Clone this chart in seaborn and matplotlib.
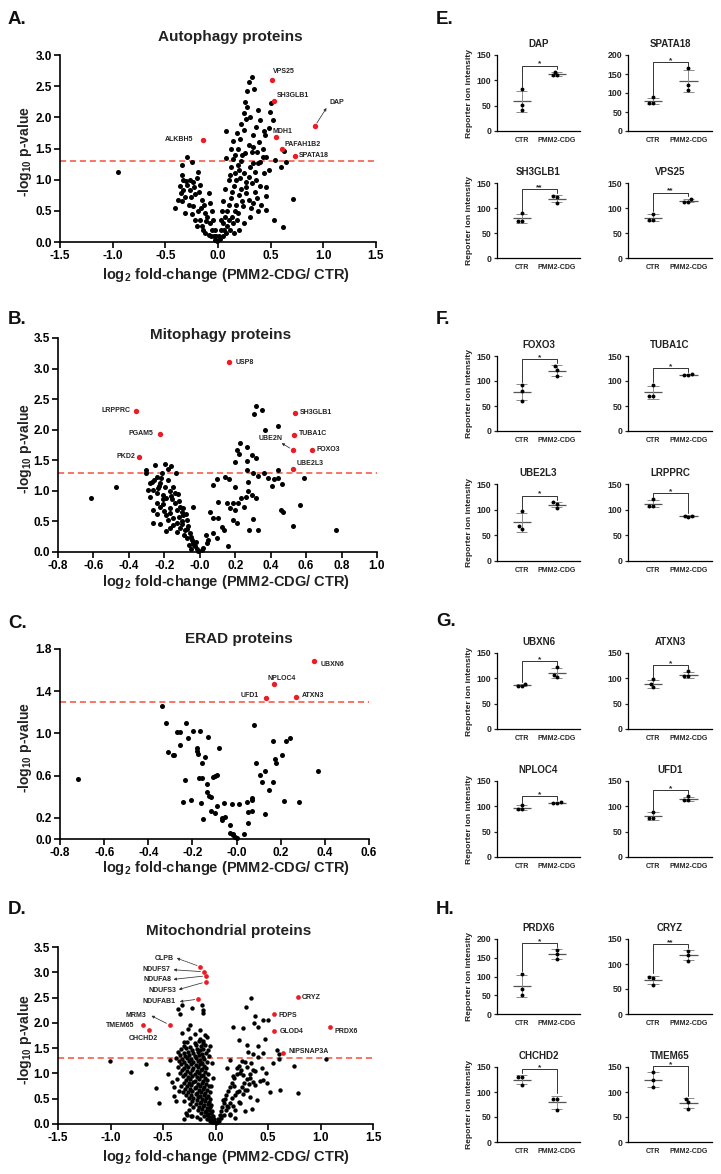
import numpy as np
import pandas as pd
import matplotlib
matplotlib.use('Agg')
import matplotlib.pyplot as plt
from matplotlib.ticker import FormatStrFormatter
import seaborn as sns

sns.set_theme(style='ticks')
plt.rcParams['font.family'] = ['Liberation Sans', 'DejaVu Sans']
plt.rcParams['mathtext.fontset'] = 'custom'
plt.rcParams['mathtext.rm'] = 'Liberation Sans'
plt.rcParams['mathtext.bf'] = 'Liberation Sans:bold'
plt.rcParams['mathtext.it'] = 'Liberation Sans:italic'
plt.rcParams['axes.unicode_minus'] = False

# ------------------------------------------------------------------ data
SIG_THRESHOLD = 1.3  # -log10(0.05)

# A. Autophagy proteins
A_black = [
    (-0.95, 1.12),
    (0.32, 2.64), (0.29, 2.57), (0.345, 2.45), (0.275, 2.43), (0.26, 2.24), (0.275, 2.16), (0.375, 2.12),
    (0.50, 2.23), (0.49, 2.08), (0.25, 2.07), (0.27, 1.98), (0.40, 1.96), (0.52, 1.95), (0.48, 1.83),
    (0.44, 1.78), (0.08, 1.78), (0.25, 1.80), (0.335, 1.72), (0.45, 1.72), (0.21, 1.65), (0.145, 1.62),
    (0.29, 1.56), (0.335, 1.53), (0.12, 1.49), (0.19, 1.50), (0.26, 1.43), (0.32, 1.44), (0.37, 1.44),
    (0.63, 1.46), (0.43, 1.37), (0.46, 1.36), (0.08, 1.35), (0.14, 1.33), (0.19, 1.24), (0.54, 1.32),
    (0.645, 1.28), (0.60, 1.20), (0.335, 1.27), (0.38, 1.27), (0.48, 1.16), (0.44, 1.10), (0.16, 1.10),
    (0.11, 1.08), (0.21, 1.02), (0.27, 0.97), (0.29, 1.05), (0.265, 0.89), (0.35, 0.81), (0.37, 0.70),
    (0.29, 0.67), (0.46, 0.88), (0.46, 0.73), (0.335, 0.63), (0.455, 0.52), (0.715, 0.69), (0.535, 0.36),
    (0.615, 0.24), (0.24, 0.57), (0.19, 0.46), (0.145, 0.30), (0.11, 0.20), (0.08, 0.14), (0.045, 0.09),
    (0.02, 0.05), (0.05, 0.30), (0.07, 0.40), (0.09, 0.50), (0.10, 0.60), (0.12, 0.70), (0.13, 0.80),
    (0.15, 0.90), (0.17, 1.00), (0.20, 1.15), (0.22, 1.30), (0.23, 1.40), (0.17, 0.60), (0.20, 0.75),
    (0.22, 0.85), (0.25, 1.10), (0.30, 1.20), (0.32, 0.95), (0.36, 1.00), (0.40, 0.90), (0.41, 0.60),
    (0.38, 0.50), (0.30, 0.40), (0.25, 0.30), (0.20, 0.20), (0.15, 0.15), (0.13, 0.40), (0.06, 0.20),
    (0.09, 0.25), (0.10, 0.35), (0.16, 0.50), (0.18, 0.35), (0.27, 0.78), (0.23, 0.66), (0.31, 0.55),
    (0.35, 1.13), (0.40, 1.28), (0.43, 1.50), (0.39, 1.60), (0.36, 1.85), (0.30, 2.00), (0.22, 1.90),
    (0.18, 1.75), (0.16, 1.40), (0.12, 1.20), (0.10, 1.00), (0.07, 0.85), (0.05, 0.65), (0.04, 0.50),
    (0.03, 0.35), (0.03, 0.20), (0.01, 0.10),
    (-0.29, 1.37), (-0.345, 1.24), (-0.245, 1.28), (-0.34, 1.07), (-0.33, 1.00), (-0.30, 0.98),
    (-0.27, 0.99), (-0.24, 0.97), (-0.19, 1.13), (-0.20, 1.02), (-0.17, 0.92), (-0.33, 0.84),
    (-0.27, 0.84), (-0.22, 0.77), (-0.345, 0.65), (-0.41, 0.54), (-0.31, 0.46), (-0.24, 0.57),
    (-0.19, 0.49), (-0.12, 0.46), (-0.17, 0.36), (-0.11, 0.33), (-0.09, 0.78), (-0.075, 0.62),
    (-0.155, 0.68), (-0.14, 0.20), (-0.06, 0.20), (-0.04, 0.09), (-0.03, 0.04), (-0.36, 0.90),
    (-0.31, 0.72), (-0.28, 0.60), (-0.25, 0.45), (-0.22, 0.35), (-0.20, 0.25), (-0.16, 0.55),
    (-0.13, 0.60), (-0.10, 0.40), (-0.08, 0.30), (-0.06, 0.50), (-0.05, 0.35), (-0.03, 0.20),
    (-0.02, 0.10), (-0.01, 0.02), (-0.26, 0.72), (-0.23, 0.88), (-0.29, 0.92), (-0.35, 0.78),
    (-0.38, 0.68), (-0.18, 0.80), (-0.15, 0.25), (-0.12, 0.15), (-0.09, 0.12), (-0.07, 0.10),
]
A_red_names = ['VPS25', 'SH3GLB1', 'DAP', 'MDH1', 'ALKBH5', 'PAFAH1B2', 'SPATA18']
A_red_x = [0.51, 0.535, 0.92, 0.55, -0.146, 0.61, 0.73]
A_red_y = [2.60, 2.27, 1.86, 1.68, 1.63, 1.49, 1.38]

# B. Mitophagy proteins
B_black = [
    (-0.615, 0.89), (-0.474, 1.07), (0.318, 2.39), (0.308, 2.25), (0.353, 2.33), (0.368, 2.00),
    (0.44, 2.06), (0.227, 1.79), (0.208, 1.67), (0.22, 1.61), (0.268, 1.72), (0.293, 1.59),
    (0.199, 1.48), (0.265, 1.49), (0.315, 1.53), (0.36, 1.30), (0.44, 1.34), (0.265, 1.34),
    (0.303, 1.29), (0.329, 1.25), (0.384, 1.21), (0.416, 1.20), (0.444, 1.21), (0.41, 1.08),
    (0.465, 1.12), (0.589, 1.21), (0.274, 1.14), (0.199, 1.07), (0.142, 1.22), (0.167, 1.19),
    (0.099, 1.20), (0.076, 1.09), (0.46, 0.68), (0.47, 0.65), (0.566, 0.77), (0.525, 0.43),
    (0.77, 0.36), (0.28, 0.36), (0.327, 0.36), (0.30, 0.54), (0.32, 0.88), (0.274, 0.99),
    (0.057, 0.66), (0.076, 0.55), (0.105, 0.55), (0.123, 0.41), (0.137, 0.36), (0.161, 0.09),
    (0.076, 0.31), (0.095, 0.23), (0.039, 0.15), (0.048, 0.20), (0.035, 0.28), (0.02, 0.07),
    (0.01, 0.04), (0.189, 0.80), (0.216, 0.80), (0.233, 0.89), (0.252, 0.74), (0.199, 0.69),
    (0.152, 0.80), (0.171, 0.72), (0.105, 0.82), (0.261, 0.90), (0.297, 0.93), (0.19, 0.53),
    (0.208, 0.47),
    (-0.306, 1.34), (-0.25, 1.43), (-0.197, 1.44), (-0.165, 1.41), (-0.178, 1.35), (-0.135, 1.30),
    (-0.212, 1.30), (-0.219, 1.21), (-0.244, 1.23), (-0.272, 1.15), (-0.282, 1.13), (-0.225, 1.13),
    (-0.197, 1.07), (-0.15, 1.07), (-0.169, 0.99), (-0.14, 0.96), (-0.122, 0.95), (-0.263, 1.02),
    (-0.291, 1.02), (-0.244, 0.96), (-0.206, 0.93), (-0.188, 0.88), (-0.155, 0.86), (-0.14, 0.80),
    (-0.112, 0.74), (-0.244, 0.80), (-0.225, 0.74), (-0.263, 0.69), (-0.20, 0.67), (-0.169, 0.64),
    (-0.131, 0.69), (-0.103, 0.66), (-0.093, 0.61), (-0.15, 0.55), (-0.178, 0.53), (-0.263, 0.47),
    (-0.225, 0.45), (-0.169, 0.39), (-0.131, 0.47), (-0.112, 0.39), (-0.074, 0.53), (-0.065, 0.42),
    (-0.084, 0.36), (-0.056, 0.31), (-0.074, 0.23), (-0.046, 0.20), (-0.037, 0.15), (-0.027, 0.09),
    (-0.018, 0.05), (-0.008, 0.02), (-0.093, 0.72), (-0.04, 0.73), (-0.305, 1.30), (-0.235, 1.05),
    (-0.21, 0.86), (-0.19, 0.60), (-0.12, 0.58), (-0.10, 0.50), (-0.06, 0.12), (-0.05, 0.05),
    (-0.09, 0.28), (-0.13, 0.32), (-0.24, 0.62), (-0.28, 0.90), (-0.26, 1.18), (-0.23, 1.08),
    (-0.18, 1.17), (-0.16, 0.92), (-0.21, 0.78), (-0.17, 0.72), (-0.12, 0.84), (-0.08, 0.62),
    (-0.10, 0.45), (-0.07, 0.38), (-0.15, 0.44), (-0.19, 0.35), (-0.05, 0.25), (-0.03, 0.12),
    (-0.02, 0.17),
]
B_red_names = ['USP8', 'LRPPRC', 'SH3GLB1', 'PGAM5', 'TUBA1C', 'UBE2N', 'FOXO3', 'PKD2', 'UBE2L3']
B_red_x = [0.167, -0.36, 0.538, -0.225, 0.534, 0.525, 0.634, -0.342, 0.528]
B_red_y = [3.11, 2.30, 2.28, 1.93, 1.92, 1.67, 1.67, 1.55, 1.35]

# C. ERAD proteins
C_black = [
    (-0.72, 0.57), (-0.337, 1.26), (-0.32, 1.10), (-0.31, 0.82), (-0.29, 0.80), (-0.285, 0.80),
    (-0.272, 1.01), (-0.257, 1.01), (-0.257, 0.89), (-0.23, 1.10), (-0.22, 0.96), (-0.197, 1.02),
    (-0.166, 1.02), (-0.18, 0.86), (-0.178, 0.83), (-0.174, 0.81), (-0.144, 0.78), (-0.156, 0.72),
    (-0.129, 0.97), (-0.079, 0.86), (-0.233, 0.56), (-0.17, 0.58), (-0.155, 0.58), (-0.106, 0.59),
    (-0.098, 0.60), (-0.088, 0.61), (-0.135, 0.52), (-0.133, 0.45), (-0.124, 0.41), (-0.118, 0.40),
    (-0.207, 0.37), (-0.241, 0.35), (-0.162, 0.34), (-0.115, 0.27), (-0.099, 0.25), (-0.088, 0.31),
    (-0.151, 0.19), (-0.068, 0.20), (-0.064, 0.18), (-0.053, 0.21), (-0.058, 0.34), (-0.02, 0.33),
    (-0.031, 0.13), (-0.028, 0.06), (-0.016, 0.05), (-0.008, 0.02), (0.0, 0.01), (-0.016, 0.04),
    (0.012, 0.33), (0.034, 0.05), (0.045, 0.35), (0.052, 0.26), (0.052, 0.15), (0.07, 0.37),
    (0.07, 0.39), (0.07, 0.27), (0.079, 1.08), (0.087, 0.72), (0.108, 0.61), (0.113, 0.54),
    (0.128, 0.64), (0.128, 0.24), (0.147, 0.46), (0.163, 0.54), (0.165, 0.93), (0.175, 0.76),
    (0.18, 0.72), (0.206, 0.80), (0.215, 0.36), (0.226, 0.93), (0.244, 0.96), (0.283, 0.35),
    (0.369, 0.64),
]
C_red_names = ['UBXN6', 'NPLOC4', 'UFD1', 'ATXN3']
C_red_x = [0.35, 0.17, 0.132, 0.268]
C_red_y = [1.69, 1.465, 1.34, 1.35]

# D. Mitochondrial proteins
D_black = [
    (-1.007, 1.25), (-0.806, 1.02), (-0.666, 1.18), (-0.568, 0.71), (-0.536, 0.41), (-0.45, 0.99),
    (-0.435, 1.27), (-0.418, 0.84), (-0.40, 0.74), (-0.358, 2.27), (-0.339, 2.17), (-0.317, 2.35),
    (-0.243, 1.96), (-0.22, 2.30), (-0.126, 2.35), (-0.122, 2.26), (-0.116, 2.19), (-0.40, 0.55),
    (-0.38, 0.45), (-0.35, 0.65), (-0.27, 0.18), (-0.23, 0.15), (-0.18, 0.14), (-0.15, 0.10),
    (-0.30, 1.62), (-0.32, 1.80), (-0.26, 1.88), (-0.15, 1.85), (-0.12, 1.65), (-0.05, 1.55),
    (-0.03, 1.20), (-0.02, 0.90), (-0.04, 0.75),
    (0.339, 2.49), (0.29, 2.32), (0.38, 2.14), (0.456, 2.06), (0.504, 2.06), (0.37, 1.99), (0.17, 1.92),
    (0.265, 1.89), (0.40, 1.92), (0.227, 1.66), (0.472, 1.68), (0.408, 1.54), (0.30, 1.56), (0.313, 1.43),
    (0.36, 1.38), (0.456, 1.40), (0.584, 1.46), (0.60, 1.38), (1.055, 1.29), (0.752, 1.14), (0.785, 0.62),
    (0.61, 0.68), (0.52, 0.64), (0.488, 0.81), (0.377, 0.77), (0.33, 0.91), (0.28, 0.68), (0.20, 0.64),
    (0.17, 0.94), (0.138, 1.27), (0.107, 1.10), (0.234, 1.00), (0.36, 1.07), (0.40, 1.33), (0.44, 1.10),
    (0.55, 1.20), (0.456, 0.87), (0.393, 0.48), (0.33, 0.54), (0.234, 0.41), (0.186, 0.28), (0.186, 0.12),
    (0.138, 0.18), (0.107, 0.35), (0.07, 0.48), (0.05, 0.15), (0.60, 1.29), (0.48, 1.00), (0.42, 0.85),
    (0.25, 1.25), (0.20, 1.10), (0.18, 0.75), (0.32, 0.80), (0.35, 0.30), (0.28, 0.25),
    (-0.20, 1.78), (-0.10, 1.76), (-0.24, 1.71), (-0.15, 1.69), (-0.08, 1.72), (-0.27, 1.63), (-0.20, 1.61),
    (-0.16, 1.64), (-0.12, 1.60), (-0.30, 1.55), (-0.24, 1.53), (-0.19, 1.56), (-0.14, 1.54), (-0.10, 1.57),
    (-0.33, 1.48), (-0.28, 1.50), (-0.22, 1.47), (-0.18, 1.49), (-0.15, 1.46), (-0.12, 1.49), (-0.07, 1.47),
    (-0.36, 1.42), (-0.30, 1.41), (-0.26, 1.43), (-0.21, 1.40), (-0.17, 1.42), (-0.13, 1.39), (-0.09, 1.41),
    (-0.34, 1.36), (-0.29, 1.35), (-0.25, 1.37), (-0.20, 1.34), (-0.16, 1.36), (-0.12, 1.33), (-0.06, 1.35),
    (-0.38, 1.30), (-0.32, 1.29), (-0.27, 1.31), (-0.23, 1.28), (-0.19, 1.30), (-0.15, 1.27), (-0.11, 1.29),
    (-0.35, 1.24), (-0.30, 1.23), (-0.25, 1.25), (-0.21, 1.22), (-0.17, 1.24), (-0.13, 1.21), (-0.08, 1.23),
    (-0.33, 1.18), (-0.28, 1.17), (-0.23, 1.19), (-0.19, 1.16), (-0.15, 1.18), (-0.11, 1.15), (-0.36, 1.12),
    (-0.30, 1.11), (-0.26, 1.13), (-0.21, 1.10), (-0.17, 1.12), (-0.13, 1.09), (-0.09, 1.11), (-0.32, 1.06),
    (-0.27, 1.05), (-0.22, 1.07), (-0.18, 1.04), (-0.14, 1.06), (-0.10, 1.03), (-0.34, 1.00), (-0.29, 0.99),
    (-0.24, 1.01), (-0.20, 0.98), (-0.16, 1.00), (-0.12, 0.97), (-0.07, 0.99), (-0.31, 0.94), (-0.26, 0.93),
    (-0.22, 0.95), (-0.18, 0.92), (-0.14, 0.94), (-0.10, 0.91), (-0.37, 0.88), (-0.28, 0.87), (-0.24, 0.89),
    (-0.20, 0.86), (-0.16, 0.88), (-0.12, 0.85), (-0.08, 0.87), (-0.30, 0.82), (-0.25, 0.81), (-0.21, 0.83),
    (-0.17, 0.80), (-0.13, 0.82), (-0.09, 0.79), (-0.33, 0.76), (-0.27, 0.75), (-0.23, 0.77), (-0.19, 0.74),
    (-0.15, 0.76), (-0.11, 0.73), (-0.06, 0.75), (-0.29, 0.70), (-0.24, 0.69), (-0.20, 0.71), (-0.16, 0.68),
    (-0.12, 0.70), (-0.08, 0.67), (-0.31, 0.64), (-0.26, 0.63), (-0.22, 0.65), (-0.18, 0.62), (-0.14, 0.64),
    (-0.10, 0.61), (-0.05, 0.63), (-0.28, 0.58), (-0.23, 0.57), (-0.19, 0.59), (-0.15, 0.56), (-0.11, 0.58),
    (-0.07, 0.55), (-0.25, 0.52), (-0.21, 0.51), (-0.17, 0.53), (-0.13, 0.50), (-0.09, 0.52), (-0.05, 0.49),
    (-0.30, 0.46), (-0.22, 0.45), (-0.18, 0.47), (-0.14, 0.44), (-0.10, 0.46), (-0.06, 0.43), (-0.24, 0.40),
    (-0.19, 0.39), (-0.15, 0.41), (-0.11, 0.38), (-0.07, 0.40), (-0.04, 0.37), (-0.21, 0.34), (-0.16, 0.33),
    (-0.12, 0.35), (-0.08, 0.32), (-0.05, 0.34), (-0.25, 0.28), (-0.17, 0.27), (-0.13, 0.29), (-0.09, 0.26),
    (-0.06, 0.28), (-0.03, 0.25), (-0.28, 0.22), (-0.14, 0.21), (-0.10, 0.23), (-0.07, 0.20), (-0.04, 0.22),
    (-0.22, 0.16), (-0.11, 0.15), (-0.08, 0.17), (-0.05, 0.14), (-0.02, 0.16), (-0.30, 0.10), (-0.08, 0.09),
    (-0.06, 0.11), (-0.03, 0.08), (-0.01, 0.10), (-0.05, 0.05), (-0.03, 0.03), (-0.01, 0.04), (0.00, 0.02),
    (0.01, 0.04), (0.03, 0.06), (0.02, 0.10), (0.05, 0.11), (0.04, 0.18), (0.08, 0.17), (0.14, 0.19),
    (0.05, 0.26), (0.10, 0.27), (0.06, 0.34), (0.12, 0.33), (0.17, 0.35), (0.08, 0.42), (0.14, 0.41),
    (0.22, 0.43), (0.09, 0.50), (0.16, 0.51), (0.10, 0.58), (0.19, 0.57), (0.26, 0.59), (0.12, 0.66),
    (0.22, 0.65), (0.30, 0.67), (0.14, 0.74), (0.25, 0.73), (0.16, 0.82), (0.27, 0.81), (0.36, 0.83),
    (0.18, 0.90), (0.30, 0.89), (0.20, 0.98), (0.26, 0.97), (0.33, 0.99), (0.24, 1.06), (0.38, 1.05),
    (0.22, 1.14), (0.30, 1.13), (0.28, 1.22), (0.34, 1.21),
]
D_red_names = ['CLPB', 'NDUFS7', 'NDUFA8', 'NDUFS3', 'NDUFAB1', 'MRM3', 'TMEM65', 'CHCHD2',
               'CRYZ', 'FDPS', 'GLOD4', 'PRDX6', 'NIPSNAP3A']
D_red_x = [-0.145, -0.11, -0.09, -0.094, -0.164, -0.438, -0.695, -0.632, 0.79, 0.558, 0.558, 1.086, 0.641]
D_red_y = [3.11, 3.01, 2.93, 2.81, 2.47, 1.96, 1.96, 1.86, 2.51, 2.17, 1.83, 1.91, 1.41]

# E-H. Reporter ion intensity, 3 replicates per group
GROUPS = ['CTR', 'PMM2-CDG']
E_names = ['DAP', 'SPATA18', 'SH3GLB1', 'VPS25']
E_ctr = [[82, 52, 42], [89, 75, 75], [90, 74, 74], [89, 77, 77]]
E_pmm = [[117, 110, 110], [165, 122, 108], [124, 122, 110], [119, 113, 113]]
E_sig = ['*', '*', '**', '**']
E_ymax = [150, 200, 150, 150]

F_names = ['FOXO3', 'TUBA1C', 'UBE2L3', 'LRPPRC']
F_ctr = [[93, 80, 60], [93, 70, 70], [97, 68, 62], [120, 108, 108]]
F_pmm = [[130, 123, 110], [113, 112, 114], [114, 112, 104], [88, 85, 88]]
F_sig = ['*', '*', '*', '*']
F_ymax = [150, 150, 150, 150]

G_names = ['UBXN6', 'ATXN3', 'NPLOC4', 'UFD1']
G_ctr = [[85, 89, 85], [98, 88, 82], [103, 94, 94], [89, 76, 76]]
G_pmm = [[122, 107, 102], [114, 104, 104], [106, 107, 108], [120, 112, 112]]
G_sig = ['*', '*', '*', '*']
G_ymax = [150, 150, 150, 150]

H_names = ['PRDX6', 'CRYZ', 'CHCHD2', 'TMEM65']
H_ctr = [[108, 66, 50], [74, 72, 58], [130, 130, 114], [140, 125, 110]]
H_pmm = [[172, 160, 147], [127, 118, 107], [87, 87, 64], [86, 80, 66]]
H_sig = ['*', '**', '*', '*']
H_ymax = [200, 150, 150, 150]

# ------------------------------------------------------------------ style / layout
W, H = 721, 1174
RED = '#ec1c24'
DASH = '#f4503a'
LAB_FS = 5.0

fig = plt.figure(figsize=(W / 100, H / 100), dpi=100)


def px_axes(l, t, r, b):
    return fig.add_axes([l / W, 1 - b / H, (r - l) / W, (b - t) / H])


def ftext(x, y, s, **kw):
    fig.text(x / W, 1 - y / H, s, **kw)


# label layout: name -> (text x, text y, ha, arrow end or None)
LAY_A = {'VPS25': (0.52, 2.73, 'left', None), 'SH3GLB1': (0.557, 2.35, 'left', None),
         'DAP': (1.06, 2.23, 'left', (1.03, 2.15)), 'MDH1': (0.52, 1.77, 'left', None),
         'ALKBH5': (-0.23, 1.64, 'right', None), 'PAFAH1B2': (0.636, 1.57, 'left', None),
         'SPATA18': (0.77, 1.38, 'left', None)}
LAY_B = {'USP8': (0.204, 3.10, 'left', None), 'LRPPRC': (-0.389, 2.32, 'right', None),
         'SH3GLB1': (0.566, 2.28, 'left', None), 'PGAM5': (-0.26, 1.93, 'right', None),
         'TUBA1C': (0.557, 1.93, 'left', None), 'UBE2N': (0.40, 1.86, 'center', (0.462, 1.78)),
         'FOXO3': (0.661, 1.67, 'left', None), 'PKD2': (-0.362, 1.56, 'right', None),
         'UBE2L3': (0.547, 1.45, 'left', None)}
LAY_C = {'UBXN6': (0.38, 1.65, 'left', None), 'NPLOC4': (0.203, 1.516, 'center', None),
         'UFD1': (0.102, 1.355, 'right', None), 'ATXN3': (0.294, 1.355, 'left', None)}
LAY_D = {'CLPB': (-0.40, 3.28, 'right', (-0.37, 3.28)), 'NDUFS7': (-0.43, 3.05, 'right', (-0.40, 3.05)),
         'NDUFA8': (-0.42, 2.86, 'right', (-0.40, 2.86)), 'NDUFS3': (-0.37, 2.63, 'right', (-0.35, 2.66)),
         'NDUFAB1': (-0.38, 2.42, 'right', (-0.34, 2.42)), 'MRM3': (-0.657, 2.15, 'right', (-0.61, 2.14)),
         'TMEM65': (-0.77, 1.94, 'right', None), 'CHCHD2': (-0.69, 1.69, 'center', None),
         'CRYZ': (0.822, 2.51, 'left', None), 'FDPS': (0.60, 2.15, 'left', None),
         'GLOD4': (0.61, 1.83, 'left', None), 'PRDX6': (1.134, 1.83, 'left', None),
         'NIPSNAP3A': (0.695, 1.43, 'left', None)}
DASHED_ARROWS = {'CLPB'}


def volcano(rect, black, rx, ry, rnames, lay, xlim, xticks, ylim, yticks, ms):
    ax = px_axes(*rect)
    ax.axhline(SIG_THRESHOLD, color=DASH, lw=1.1, ls=(0, (4, 2.5)), zorder=1)
    sns.scatterplot(x=[p[0] for p in black], y=[p[1] for p in black], ax=ax, color='black',
                    s=ms, linewidth=0, zorder=3, clip_on=False, legend=False)
    sns.scatterplot(x=rx, y=ry, ax=ax, color=RED, s=ms * 1.15, linewidth=0, zorder=4,
                    clip_on=False, legend=False)
    for n, x, y in zip(rnames, rx, ry):
        tx, ty, ha, arr = lay[n]
        ax.text(tx, ty, n, ha=ha, va='center', fontsize=LAB_FS, fontweight='bold', color='#222', zorder=5)
        if arr is not None:
            ax.annotate('', xy=arr, xytext=(x, y),
                        arrowprops=dict(arrowstyle='-|>', lw=0.55, color='#333', shrinkA=2.5, shrinkB=0,
                                        mutation_scale=4,
                                        linestyle=(0, (2, 1)) if n in DASHED_ARROWS else '-'))
    ax.set_xlim(xlim)
    ax.set_ylim(ylim)
    ax.set_xticks(xticks)
    ax.set_yticks(yticks)
    ax.xaxis.set_major_formatter(FormatStrFormatter('%.1f'))
    ax.yaxis.set_major_formatter(FormatStrFormatter('%.1f'))
    for s in ['top', 'right']:
        ax.spines[s].set_visible(False)
    for s in ['left', 'bottom']:
        ax.spines[s].set_linewidth(1.2)
        ax.spines[s].set_color('black')
    ax.tick_params(direction='out', length=4, width=1.2, labelsize=8.5, pad=2, colors='black')
    for lab in ax.get_xticklabels() + ax.get_yticklabels():
        lab.set_fontweight('bold')
    ax.set_xlabel('')
    ax.set_ylabel('')
    return ax


XLAB = r'log$_\mathbf{2}$ fold-change (PMM2-CDG/ CTR)'
YLAB = r'-log$_\mathbf{10}$ p-value'

volcano((60, 55, 376, 242), A_black, A_red_x, A_red_y, A_red_names, LAY_A,
        (-1.5, 1.5), np.arange(-1.5, 1.51, 0.5), (0, 3.0), np.arange(0, 3.01, 0.5), 13)
volcano((58, 338, 377, 552), B_black, B_red_x, B_red_y, B_red_names, LAY_B,
        (-0.8, 1.0), np.arange(-0.8, 1.01, 0.2), (0, 3.5), np.arange(0, 3.51, 0.5), 13)
volcano((60, 649, 369, 839), C_black, C_red_x, C_red_y, C_red_names, LAY_C,
        (-0.8, 0.6), np.arange(-0.8, 0.61, 0.2), (0, 1.8), [0, 0.2, 0.6, 1.0, 1.4, 1.8], 13)
volcano((58, 947, 373, 1124), D_black, D_red_x, D_red_y, D_red_names, LAY_D,
        (-1.5, 1.5), np.arange(-1.5, 1.51, 0.5), (0, 3.5), np.arange(0, 3.51, 0.5), 10)

TFS = 11
for (tx, ty, title) in [(230, 37, 'Autophagy proteins'), (221, 335, 'Mitophagy proteins'),
                        (239, 639, 'ERAD proteins'), (229, 931, 'Mitochondrial proteins')]:
    ftext(tx, ty, title, ha='center', va='center', fontsize=TFS, fontweight='bold', color='#222')
for y in [275, 582, 868, 1157]:
    ftext(226, y, XLAB, ha='center', va='center', fontsize=10.5, fontweight='bold', color='#222')
for (x, y) in [(25, 152), (25, 449), (25, 748), (25, 1040)]:
    ftext(x, y, YLAB, ha='center', va='center', rotation=90, fontsize=10, fontweight='bold', color='#222')
for (x, y, s) in [(8, 20, 'A.'), (8, 320, 'B.'), (8, 623, 'C.'), (8, 909, 'D.'),
                  (436, 20, 'E.'), (436, 320, 'F.'), (436, 622, 'G.'), (436, 910, 'H.')]:
    ftext(x, y, s, ha='left', va='center', fontsize=13.5, fontweight='bold', color='#111')


def small(rect, name, ctr, pmm, ymax, sig, ylabel):
    ax = px_axes(*rect)
    tops = []
    for i, vals in enumerate([ctr, pmm]):
        m = np.mean(vals)
        sd = np.std(vals, ddof=1)
        ax.hlines(m, i - 0.26, i + 0.26, color='#555', lw=0.9, zorder=2)
        ax.vlines(i, m - sd, m + sd, color='#8a8a8a', lw=0.7, zorder=2)
        ax.hlines([m - sd, m + sd], i - 0.16, i + 0.16, color='#8a8a8a', lw=0.7, zorder=2)
        tops.append(max(max(vals), m + sd) + 0.03 * ymax)
    df = pd.DataFrame({'g': [GROUPS[0]] * len(ctr) + [GROUPS[1]] * len(pmm), 'v': list(ctr) + list(pmm)})
    sns.swarmplot(data=df, x='g', y='v', order=GROUPS, ax=ax, color='black', size=2.8, zorder=4)
    yb = max(tops) + 0.05 * ymax
    ax.plot([0, 0, 1, 1], [tops[0], yb, yb, tops[1]], color='#333', lw=0.7, clip_on=False, zorder=3)
    ax.text(0.5, yb - 0.025 * ymax, sig, ha='center', va='bottom', fontsize=6, fontweight='bold', clip_on=False)
    ax.set_xlim(-0.71, 1.67)
    ax.set_ylim(0, ymax)
    ax.set_yticks(np.arange(0, ymax + 1, 50))
    ax.set_xlabel('')
    if ylabel:
        ax.set_ylabel('Reporter ion intensity', fontsize=6.1, fontweight='bold', labelpad=2.5, color='#222')
    else:
        ax.set_ylabel('')
    ax.set_title(name, fontsize=7, fontweight='bold', pad=6, color='#222')
    for s in ['top', 'right']:
        ax.spines[s].set_visible(False)
    for s in ['left', 'bottom']:
        ax.spines[s].set_linewidth(0.9)
        ax.spines[s].set_color('black')
    ax.tick_params(axis='y', direction='out', length=2.5, width=0.9, labelsize=6.3, pad=1.5)
    ax.tick_params(axis='x', length=0, labelsize=5, pad=4)
    for lab in ax.get_xticklabels() + ax.get_yticklabels():
        lab.set_fontweight('bold')
    return ax


COLS = [(497, 580), (628, 712)]
ROWS = {'E': [(55, 131), (183, 258)], 'F': [(356, 431), (484, 561)],
        'G': [(653, 729), (781, 857)], 'H': [(939, 1014), (1067, 1142)]}
PANELS = {'E': (E_names, E_ctr, E_pmm, E_ymax, E_sig), 'F': (F_names, F_ctr, F_pmm, F_ymax, F_sig),
          'G': (G_names, G_ctr, G_pmm, G_ymax, G_sig), 'H': (H_names, H_ctr, H_pmm, H_ymax, H_sig)}
for key, (names, ctrs, pmms, ymaxs, sigs) in PANELS.items():
    for k in range(4):
        r, c = divmod(k, 2)
        t, b = ROWS[key][r]
        l, rr = COLS[c]
        small((l, t, rr, b), names[k], ctrs[k], pmms[k], ymaxs[k], sigs[k], c == 0)

fig.savefig('out.png', dpi=100, facecolor='white')
